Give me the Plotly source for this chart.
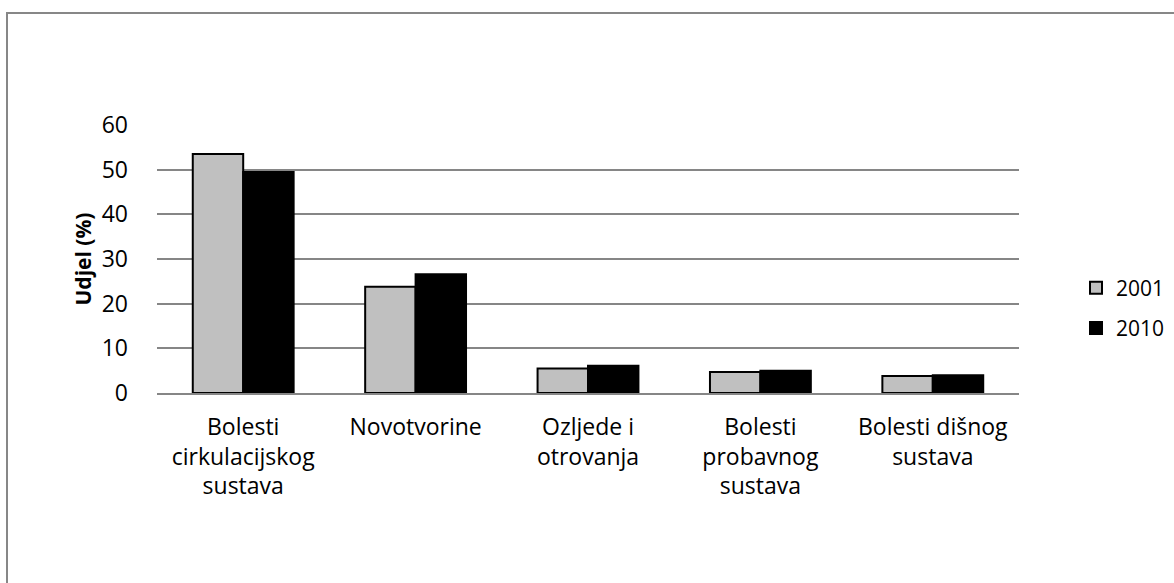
import plotly.graph_objects as go

categories = ["Bolesti<br>cirkulacijskog<br>sustava", "Novotvorine", "Ozljede i<br>otrovanja",
              "Bolesti<br>probavnog<br>sustava", "Bolesti dišnog<br>sustava"]
values_2001 = [53.5, 23.8, 5.5, 4.7, 3.8]
values_2010 = [49.5, 26.6, 6.1, 5.0, 4.0]
series_names = ["2001", "2010"]
y_ticks = [0, 10, 20, 30, 40, 50, 60]

FONT = "Open Sans"
FS = 23
W, H = 1174, 583
L, R, T, B = 157, W - 1019, 125, H - 393
pw, ph = W - L - R, H - T - B

def px_x(p):
    return (p - L) / pw

def px_y(p):
    return (H - B - p) / ph

fig = go.Figure()
fig.add_trace(go.Bar(x=categories, y=values_2001, name=series_names[0], legendgroup="a",
                     marker=dict(color="#c0c0c0", line=dict(color="black", width=2))))
fig.add_trace(go.Bar(x=categories, y=values_2010, name=series_names[1], legendgroup="b",
                     marker=dict(color="black", line=dict(color="black", width=2))))

fig.update_layout(
    width=W, height=H,
    margin=dict(l=L, r=R, t=T, b=B, autoexpand=False),
    paper_bgcolor="white", plot_bgcolor="white",
    barmode="group", bargap=0.415, bargroupgap=0,
    font=dict(family=FONT, size=FS, color="black"),
    showlegend=True,
    legend=dict(x=px_x(1076), y=px_y(308), xanchor="left", yanchor="middle",
                traceorder="grouped", tracegroupgap=10, itemwidth=30,
                font=dict(family=FONT, size=21, color="black"),
                bgcolor="rgba(0,0,0,0)"),
    xaxis=dict(showline=True, linecolor="#868686", linewidth=2, ticks="",
               tickfont=dict(family=FONT, size=FS), ticklabelstandoff=12, fixedrange=True),
    yaxis=dict(range=[0, 60], tickvals=y_ticks, showgrid=True, gridcolor="#868686", gridwidth=1.5,
               zeroline=False, showline=False, ticks="",
               tickfont=dict(family=FONT, size=FS), ticklabelstandoff=28,
               title=dict(text="<b>Udjel (%)</b>", font=dict(family=FONT, size=21), standoff=4)),
    shapes=[dict(type="rect", xref="paper", yref="paper",
                 x0=px_x(7), x1=px_x(W + 20), y0=px_y(13), y1=px_y(H + 20),
                 line=dict(color="#878787", width=2), layer="below")],
)

fig.write_html("out.html", config={"displayModeBar": False},
               post_script="document.body.style.margin='0';")
